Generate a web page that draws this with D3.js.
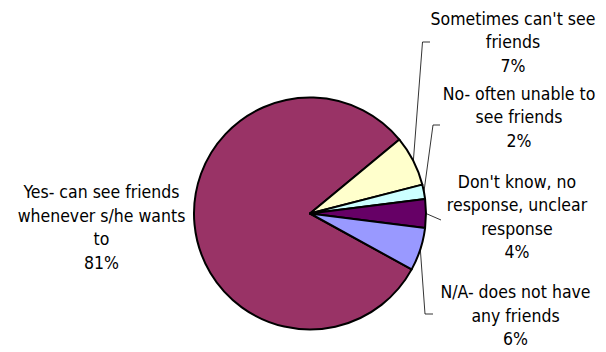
<!DOCTYPE html>
<html><head><meta charset="utf-8">
<script src="https://cdn.jsdelivr.net/npm/d3@7"></script>
<style>body{margin:0;background:#fff}svg{display:block}</style>
</head><body>
<svg id="c" width="606" height="352"></svg>
<script>
const categories = ["Yes- can see friends whenever s/he wants to","Sometimes can't see friends","No- often unable to see friends","Don't know, no response, unclear response","N/A- does not have any friends"];
const values = [81, 7, 2, 4, 6];
const percentLabels = ["81%","7%","2%","4%","6%"];
const labelLines = [
  ["Yes- can see friends","whenever s/he wants","to"],
  ["Sometimes can't see","friends"],
  ["No- often unable to","see friends"],
  ["Don't know, no","response, unclear","response"],
  ["N/A- does not have","any friends"]
];
const colors = ["#993366","#FFFFCC","#CCFFFF","#660066","#9999FF"];

// layout (not data)
const cx = 310, cy = 213.5, R = 116;
const labelPos = [ {x:101.5,y:198.3}, {x:513,y:25}, {x:519,y:100}, {x:517,y:188}, {x:515.5,y:298.3} ];
const leaderEnds = [ null, [[422.5,42],[430,42]], [[433,125],[440,125]], [[441,220]], [[425,314],[433,314]] ];
const lineH = 23.4;

const svg = d3.select("#c");
const startDeg = 118.8;
const pie = d3.pie().sort(null).value(d=>d)
  .startAngle(startDeg*Math.PI/180).endAngle((startDeg+360)*Math.PI/180);
const arcs = pie(values);
const arc = d3.arc().innerRadius(0).outerRadius(R);
const g = svg.append("g").attr("transform",`translate(${cx},${cy})`);
g.selectAll("path").data(arcs).enter().append("path")
  .attr("d",arc).attr("fill",(d,i)=>colors[i])
  .attr("stroke","#000").attr("stroke-width",2).attr("stroke-linejoin","round");

// leader lines
arcs.forEach((a,i)=>{
  if(!leaderEnds[i]) return;
  const m = (a.startAngle+a.endAngle)/2;
  const p0 = [cx + R*Math.sin(m), cy - R*Math.cos(m)];
  const pts = [p0, ...leaderEnds[i]];
  svg.append("path").attr("d", d3.line()(pts)).attr("fill","none")
    .attr("stroke","#000").attr("stroke-width",0.8);
});

// labels
labelLines.forEach((lines,i)=>{
  const all = lines.concat([percentLabels[i]]);
  const t = svg.append("text").attr("text-anchor","middle")
    .attr("font-family","'DejaVu Sans Condensed','DejaVu Sans',sans-serif")
    .attr("font-size",17.5).attr("fill","#000");
  all.forEach((s,k)=>{
    t.append("tspan").attr("x",labelPos[i].x).attr("y",labelPos[i].y + k*lineH).text(s);
  });
});
</script>
</body></html>
